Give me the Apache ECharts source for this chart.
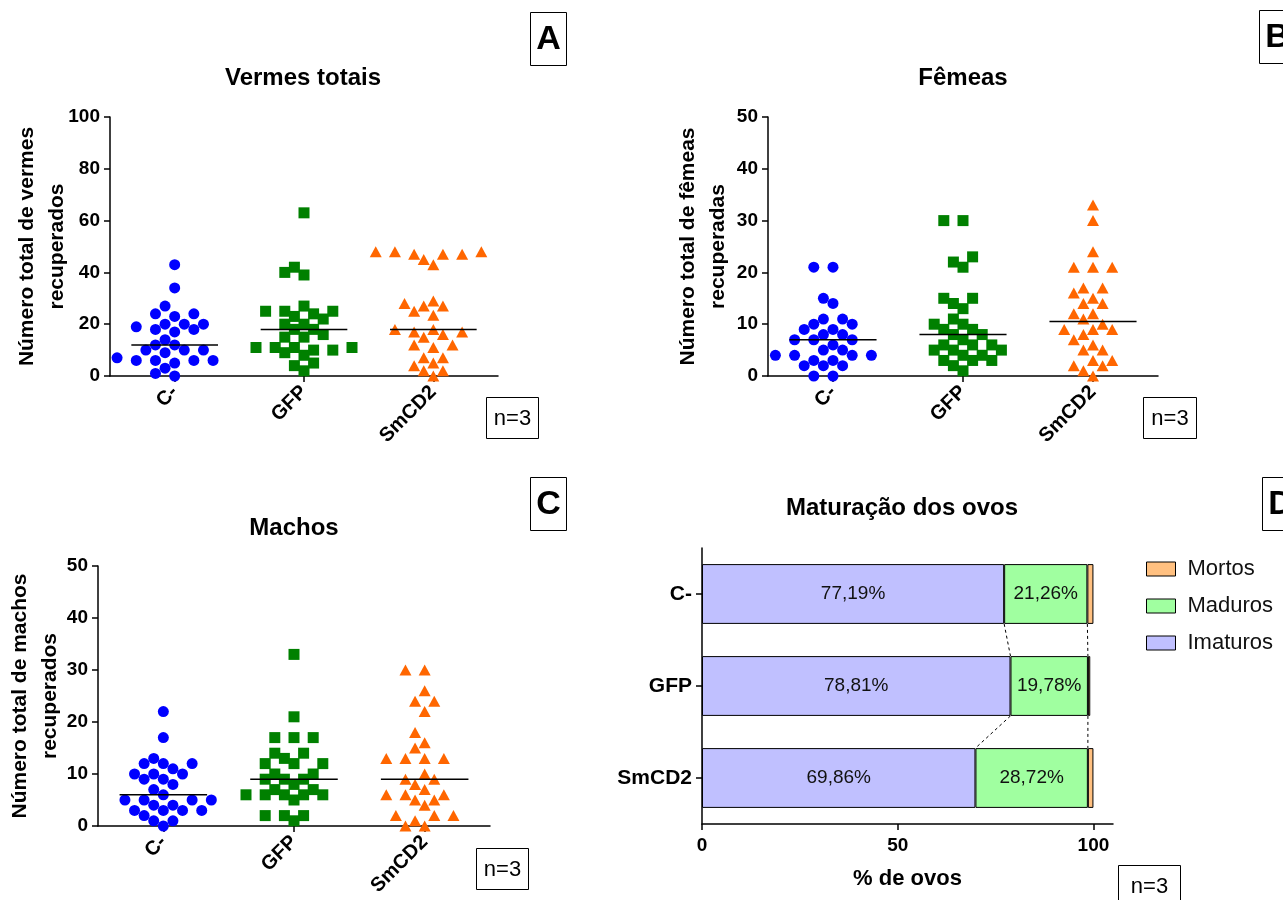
<!DOCTYPE html>
<html>
<head>
<meta charset="utf-8">
<script src="https://cdn.jsdelivr.net/npm/echarts@6/dist/echarts.min.js"></script>
<style>
  html, body { margin: 0; padding: 0; background: #fff; }
  #chart { width: 1283px; height: 900px; }
</style>
</head>
<body>
<div id="chart"></div>
<script>
// ---- data ----------------------------------------------------------------
const groups = ['C-', 'GFP', 'SmCD2'];

// A: vermes totais recuperados por animal
const totalCneg  = [43, 34, 27, 24, 23, 24, 20, 20, 19, 20, 17, 18, 18, 14, 12, 12, 10, 10, 9, 10, 7, 5, 6, 6, 6, 6, 3, 0, 1];
const totalGFP   = [63, 40, 39, 42, 25, 25, 25, 27, 24, 23, 20, 20, 22, 18, 18, 16, 15, 15, 10, 11, 8, 10, 9, 11, 11, 11, 4, 5, 2];
const totalSmCD2 = [48, 47, 47, 48, 45, 47, 48, 43, 27, 27, 29, 25, 28, 23.5, 17, 15, 16, 18, 17, 18, 11, 12, 12, 5, 7, 7, 4, 0, 2, 2];

// B: fêmeas recuperadas
const femCneg  = [21, 21, 15, 14, 11, 11, 10, 10, 9, 9, 7, 7, 8, 8, 7, 4, 4, 5, 6, 5, 4, 4, 2, 3, 2, 3, 2, 0, 0];
const femGFP   = [30, 30, 23, 22, 21, 15, 14, 15, 13, 11, 10, 10, 9, 9, 8, 8, 7, 6, 6, 6, 5, 4, 4, 5, 5, 3, 3, 3, 2, 1];
const femSmCD2 = [33, 30, 24, 21, 21, 21, 17, 17, 16, 15, 14, 14, 12, 12, 11, 10, 9, 9, 9, 8, 7, 6, 5, 5, 3, 3, 2, 2, 1, 0];

// C: machos recuperados
const macCneg  = [22, 17, 13, 12, 11, 12, 12, 10, 10, 9, 9, 10, 8, 7, 6, 4, 5, 5, 5, 5, 4, 2, 3, 3, 3, 3, 0, 1, 1];
const macGFP   = [33, 21, 17, 17, 17, 14, 14, 13, 12, 12, 12, 10, 10, 9, 9, 9, 7, 8, 7, 5, 6, 6, 6, 6, 6, 1, 2, 2, 2];
const macSmCD2 = [30, 30, 26, 24, 24, 22, 18, 16, 15, 13, 13, 13, 13, 10, 9, 9, 8, 7, 6, 6, 6, 5, 5, 4, 2, 2, 2, 1, 0, 0];

// D: maturação dos ovos (% de ovos)
const eggGroups = ['C-', 'GFP', 'SmCD2'];
const imaturos  = [77.19, 78.81, 69.86];
const maduros   = [21.26, 19.78, 28.72];
const mortos    = [1.55, 0.6, 1.42];

const yTicksTotal = [0, 20, 40, 60, 80, 100];
const yTicksSex   = [0, 10, 20, 30, 40, 50];
const xTicksEggs  = [0, 50, 100];

// ---- helpers -------------------------------------------------------------
const FONT = 'Liberation Sans, Arial, sans-serif';
const BLUE = '#0000ff', GREEN = '#008000', ORANGE = '#ff6600';

function median(arr) {
  const s = arr.slice().sort((a, b) => a - b);
  const m = Math.floor(s.length / 2);
  return s.length % 2 ? s[m] : (s[m - 1] + s[m]) / 2;
}

// column scatter layout: points sit on horizontal slots and move sideways
// only when they would overlap a point already placed
function swarm(values, center, pxPerX, pxPerY) {
  const d = 10.5, step = 9.6;
  const order = values.map((v, i) => i).sort((a, b) => values[a] - values[b]);
  const placed = [];
  const out = new Array(values.length);
  for (const i of order) {
    const y = values[i] * pxPerY;
    for (let k = 0; k < 60; k++) {
      const slot = k === 0 ? 0 : (k % 2 ? -Math.ceil(k / 2) : Math.ceil(k / 2));
      const x = slot * step;
      if (placed.every(p => Math.hypot(p[0] - x, p[1] - y) >= d)) {
        placed.push([x, y]);
        out[i] = [center + x / pxPerX, values[i]];
        break;
      }
    }
  }
  return out;
}

const grids = [
  { left: 110, top: 117, width: 388, height: 259 },   // A
  { left: 768, top: 117, width: 390, height: 259 },   // B
  { left: 98,  top: 566, width: 392, height: 260 },   // C
  { left: 702, top: 548, width: 411, height: 276 }    // D
];

const axisLineStyle = { color: '#000', width: 1.5 };

function groupXAxis(gi) {
  return {
    gridIndex: gi, type: 'value', min: -0.5, max: 2.5,
    axisLine: { show: true, lineStyle: axisLineStyle },
    axisTick: { show: true, customValues: [0, 1, 2], length: 6, lineStyle: axisLineStyle },
    axisLabel: {
      customValues: [0, 1, 2], formatter: v => groups[Math.round(v)],
      rotate: 45, margin: 13, color: '#000', fontWeight: 'bold', fontSize: 20, fontFamily: FONT
    },
    splitLine: { show: false }
  };
}

function countYAxis(gi, ticks, name, gap) {
  return {
    gridIndex: gi, type: 'value', min: ticks[0], max: ticks[ticks.length - 1],
    interval: ticks[1] - ticks[0],
    name: name, nameLocation: 'middle', nameGap: gap, nameMoveOverlap: false,
    nameTextStyle: { color: '#000', fontWeight: 'bold', fontSize: 21, lineHeight: 30, fontFamily: FONT },
    axisLine: { show: true, onZero: false, lineStyle: axisLineStyle },
    axisTick: { show: true, length: 6, lineStyle: axisLineStyle },
    axisLabel: { margin: 10, color: '#000', fontWeight: 'bold', fontSize: 19, fontFamily: FONT },
    splitLine: { show: false }
  };
}

function dotSeries(gi, values, idx, color, symbol, size) {
  const g = grids[gi];
  const yr = gi === 0 ? 100 : 50;
  return {
    type: 'scatter', xAxisIndex: gi, yAxisIndex: gi,
    data: swarm(values, idx, g.width / 3, g.height / yr),
    symbol: symbol, symbolSize: size,
    itemStyle: { color: color, opacity: 1 },
    emphasis: { disabled: true }, z: 3
  };
}

function medianSeries(gi, sets) {
  return {
    type: 'custom', xAxisIndex: gi, yAxisIndex: gi, z: 6,
    data: sets.map((s, i) => [i, median(s)]),
    renderItem(params, api) {
      const a = api.coord([api.value(0) - 0.335, api.value(1)]);
      const b = api.coord([api.value(0) + 0.335, api.value(1)]);
      return { type: 'line', shape: { x1: a[0], y1: a[1], x2: b[0], y2: b[1] },
               style: { stroke: '#000', lineWidth: 1.5 } };
    }
  };
}

function panelSeries(gi, sets) {
  return [
    dotSeries(gi, sets[0], 0, BLUE, 'circle', 11),
    dotSeries(gi, sets[1], 1, GREEN, 'rect', 11),
    dotSeries(gi, sets[2], 2, ORANGE, 'triangle', [12, 11]),
    medianSeries(gi, sets)
  ];
}

// stacked-bar boundaries joined by dashed lines between neighbouring bars
const cumFirst = imaturos.slice();
const cumSecond = imaturos.map((v, i) => v + maduros[i]);
const connectorData = [];
for (let i = 0; i < eggGroups.length - 1; i++) {
  connectorData.push([cumFirst[i], i, cumFirst[i + 1], i + 1]);
  connectorData.push([cumSecond[i], i, cumSecond[i + 1], i + 1]);
}

const fmtPct = p => p.value.toFixed(2).replace('.', ',') + '%';
const barLabel = { show: true, position: 'inside', formatter: fmtPct, color: '#111', fontSize: 19, fontFamily: FONT };
const barBorder = { borderColor: '#000', borderWidth: 1 };

// ---- frame texts ---------------------------------------------------------
function title(text, x, y) {
  return { type: 'text', x: x, y: y, style: { text: text, fill: '#000', font: 'bold 24px ' + FONT, textAlign: 'center', textVerticalAlign: 'middle' } };
}
function boxedText(text, x, y, w, h, font) {
  return [
    { type: 'rect', shape: { x: x + 0.5, y: y + 0.5, width: w, height: h }, style: { fill: '#fff', stroke: '#000', lineWidth: 1 } },
    { type: 'text', x: x + w / 2 + 0.5, y: y + h / 2 + 1, style: { text: text, fill: '#000', font: font, textAlign: 'center', textVerticalAlign: 'middle' } }
  ];
}
const letterFont = 'bold 34px ' + FONT;
const nFont = '22px ' + FONT;

const graphics = [
  title('Vermes totais', 303, 78),
  title('Fêmeas', 963, 78),
  title('Machos', 294, 528),
  title('Maturação dos ovos', 902, 508),
  ...boxedText('A', 530, 12, 36, 53, letterFont),
  ...boxedText('B', 1259, 10, 36, 53, letterFont),
  ...boxedText('C', 530, 477, 36, 53, letterFont),
  ...boxedText('D', 1262, 477, 36, 53, letterFont),
  ...boxedText('n=3', 486, 397, 52, 41, nFont),
  ...boxedText('n=3', 1143, 397, 53, 41, nFont),
  ...boxedText('n=3', 476, 848, 52, 41, nFont),
  ...boxedText('n=3', 1118, 865, 62, 41, nFont)
];

// ---- chart ---------------------------------------------------------------
const chart = echarts.init(document.getElementById('chart'), null, { renderer: 'canvas' });
chart.setOption({
  animation: false,
  backgroundColor: '#fff',
  textStyle: { fontFamily: FONT },
  grid: grids,
  xAxis: [
    groupXAxis(0), groupXAxis(1), groupXAxis(2),
    {
      gridIndex: 3, type: 'value', min: 0, max: 105,
      name: '% de ovos', nameLocation: 'middle', nameGap: 44,
      nameTextStyle: { color: '#000', fontWeight: 'bold', fontSize: 22, fontFamily: FONT },
      axisLine: { show: true, lineStyle: axisLineStyle },
      axisTick: { show: true, customValues: xTicksEggs, length: 6, lineStyle: axisLineStyle },
      axisLabel: { customValues: xTicksEggs, margin: 12, color: '#000', fontWeight: 'bold', fontSize: 19, fontFamily: FONT },
      splitLine: { show: false }
    }
  ],
  yAxis: [
    countYAxis(0, yTicksTotal, 'Número total de vermes\nrecuperados', 38),
    countYAxis(1, yTicksSex, 'Número total de fêmeas\nrecuperadas', 35),
    countYAxis(2, yTicksSex, 'Número total de machos\nrecuperados', 33),
    {
      gridIndex: 3, type: 'category', data: eggGroups, inverse: true,
      axisLine: { show: true, lineStyle: axisLineStyle },
      axisTick: { show: true, alignWithLabel: true, length: 6, lineStyle: axisLineStyle },
      axisLabel: { margin: 10, color: '#000', fontWeight: 'bold', fontSize: 21, fontFamily: FONT },
      splitLine: { show: false }
    }
  ],
  legend: {
    data: ['Mortos', 'Maduros', 'Imaturos'],
    orient: 'vertical', left: 1141, top: 553,
    icon: 'rect', itemWidth: 29, itemHeight: 14, itemGap: 15,
    itemStyle: { borderColor: '#000', borderWidth: 1 },
    textStyle: { color: '#111', fontSize: 22, fontFamily: FONT, padding: [0, 0, 0, 7] },
    selectedMode: false
  },
  series: [
    ...panelSeries(0, [totalCneg, totalGFP, totalSmCD2]),
    ...panelSeries(1, [femCneg, femGFP, femSmCD2]),
    ...panelSeries(2, [macCneg, macGFP, macSmCD2]),
    {
      name: 'Imaturos', type: 'bar', stack: 'ovos', xAxisIndex: 3, yAxisIndex: 3,
      barWidth: '65%', data: imaturos,
      itemStyle: Object.assign({ color: '#c0c0ff' }, barBorder), label: barLabel
    },
    {
      name: 'Maduros', type: 'bar', stack: 'ovos', xAxisIndex: 3, yAxisIndex: 3,
      barWidth: '65%', data: maduros,
      itemStyle: Object.assign({ color: '#a0ffa0' }, barBorder), label: barLabel
    },
    {
      name: 'Mortos', type: 'bar', stack: 'ovos', xAxisIndex: 3, yAxisIndex: 3,
      barWidth: '65%', data: mortos,
      itemStyle: Object.assign({ color: '#ffc080' }, barBorder)
    },
    {
      type: 'custom', xAxisIndex: 3, yAxisIndex: 3, z: 4,
      data: connectorData,
      renderItem(params, api) {
        const half = api.size([0, 1])[1] * 0.65 / 2;
        const a = api.coord([api.value(0), api.value(1)]);
        const b = api.coord([api.value(2), api.value(3)]);
        return { type: 'line', shape: { x1: a[0], y1: a[1] + half, x2: b[0], y2: b[1] - half },
                 style: { stroke: '#000', lineWidth: 1, lineDash: [3, 3] } };
      }
    }
  ],
  graphic: graphics
});
</script>
</body>
</html>
